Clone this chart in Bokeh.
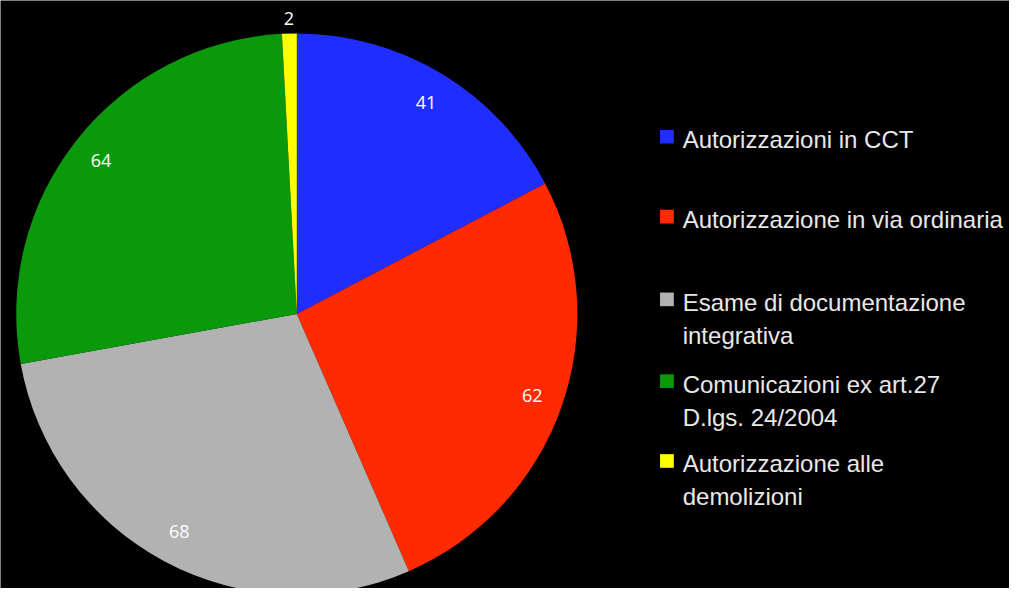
import numpy as np
from bokeh.plotting import figure
from bokeh.models import Range1d, ColumnDataSource
from bokeh.core.properties import value
from bokeh.embed import file_html
from bokeh.resources import INLINE

categories = [
    "Autorizzazioni in CCT",
    "Autorizzazione in via ordinaria",
    "Esame di documentazione\nintegrativa",
    "Comunicazioni ex art.27\nD.lgs. 24/2004",
    "Autorizzazione alle\ndemolizioni",
]
values = [41, 62, 68, 64, 2]
colors = ["#1f2dff", "#ff2a00", "#b2b2b2", "#0a990a", "#ffff00"]

W, H = 1009, 588
p = figure(width=W, height=H, output_backend="svg", toolbar_location=None,
           x_range=Range1d(0, 1025), y_range=Range1d(0, 604),
           min_border=0, background_fill_color="black", border_fill_color="black")
p.outline_line_color = None
p.axis.visible = False
p.grid.visible = False

cx, cy, R = 301, 282, 285
vals = np.array(values, dtype=float)
total = vals.sum()
cum = np.concatenate([[0], np.cumsum(vals)])
start = np.pi / 2 - cum[:-1] / total * 2 * np.pi
end = np.pi / 2 - cum[1:] / total * 2 * np.pi
mid = (start + end) / 2

src = ColumnDataSource(dict(start=start, end=end, color=colors))
p.wedge(x=cx, y=cy, radius=R, start_angle="start", end_angle="end",
        direction="clock", fill_color="color", line_color=None, source=src)

frac = vals / total
rf = np.where(frac < 0.03, 1.065, 0.89)
lx = cx + R * rf * np.cos(mid)
ly = cy + R * rf * np.sin(mid)
p.text(x=lx, y=ly, text=[str(v) for v in values], text_color="white",
       text_font=value("Open Sans"), text_font_size="18px",
       text_align="center", text_baseline="middle")

# legend
sq_y = [464, 382, 297, 213, 131]  # data y for legend rows (top to bottom)
line_h = 34
for i, (cat, col) in enumerate(zip(categories, colors)):
    yy = sq_y[i]
    p.rect(x=677, y=yy, width=14, height=14, fill_color=col, line_color=None)
    for j, line in enumerate(cat.split("\n")):
        p.text(x=[693], y=[yy - 3 - j * line_h], text=[line], text_color="#e8e8e8",
               text_font=value("Liberation Sans"), text_font_size="24px",
               text_align="left", text_baseline="middle")

open("out.html", "w").write(file_html(p, INLINE))
